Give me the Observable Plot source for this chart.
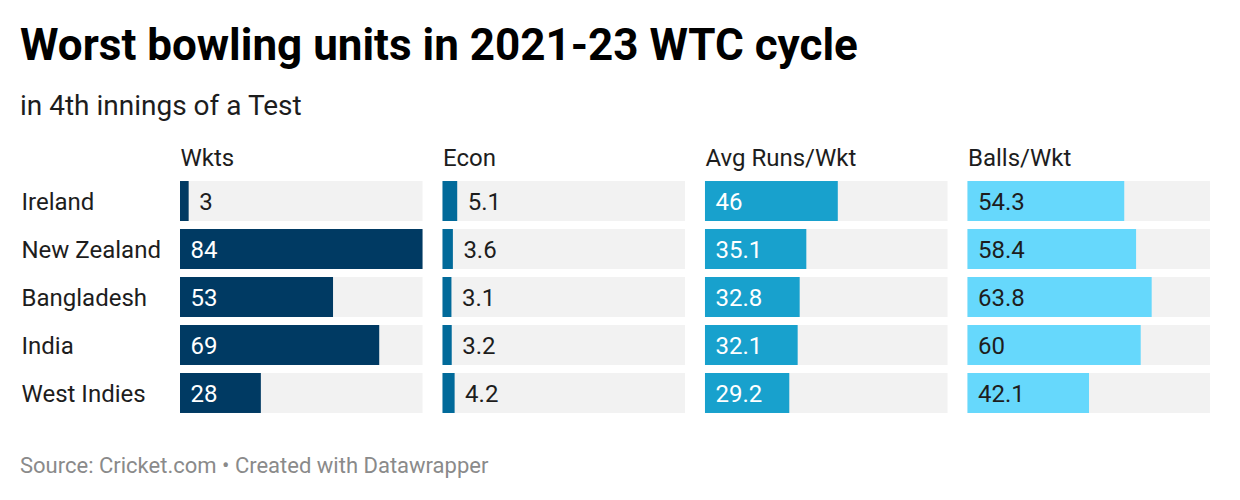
<!DOCTYPE html>
<html>
<head>
<meta charset="utf-8">
<script src="https://cdn.jsdelivr.net/npm/d3@7"></script>
<script src="https://cdn.jsdelivr.net/npm/@observablehq/plot@0.6"></script>
<style>
  html, body { margin: 0; padding: 0; background: #fff; }
  body { width: 1240px; height: 500px; overflow: hidden; font-family: Roboto, sans-serif; }
  .wrap { padding-left: 20px; }
  h1 { margin: 22px 0 0 0; font-size: 44px; line-height: 46px; font-weight: 700; color: #000; letter-spacing: 0; }
  .sub { margin: 23px 0 0 0; font-size: 28px; line-height: 30px; color: #1d1d1d; }
  #chart { margin-top: 9px; margin-left: -20px; height: 300px; }
  .cap { margin: 24px 0 0 0; font-size: 22px; line-height: 24px; color: #8a8a8a; }
</style>
</head>
<body>
<div class="wrap">
  <h1>Worst bowling units in 2021-23 WTC cycle</h1>
  <div class="sub">in 4th innings of a Test</div>
  <div id="chart"></div>
  <div class="cap">Source: Cricket.com • Created with Datawrapper</div>
</div>
<script>
const countries = ["Ireland", "New Zealand", "Bangladesh", "India", "West Indies"];
const metrics = ["Wkts", "Econ", "Avg Runs/Wkt", "Balls/Wkt"];
const wkts = [3, 84, 53, 69, 28];
const econ = [5.1, 3.6, 3.1, 3.2, 4.2];
const avgRuns = [46, 35.1, 32.8, 32.1, 29.2];
const ballsPerWkt = [54.3, 58.4, 63.8, 60, 42.1];
const barColors = ["#003a63", "#016a9a", "#18a1cd", "#66d8fc"];
const insideTextColors = ["#ffffff", "#ffffff", "#ffffff", "#1d1d1d"];
const domainMax = 84;

const series = [wkts, econ, avgRuns, ballsPerWkt];
const table = [];
metrics.forEach((m, i) => {
  countries.forEach((c, j) => {
    const v = series[i][j];
    const inside = v > 10;
    table.push({
      metric: m, country: c, value: v, fill: barColors[i],
      inside, textFill: inside ? insideTextColors[i] : "#1d1d1d", label: String(v)
    });
  });
});

const chart = Plot.plot({
  width: 1240,
  height: 300,
  marginLeft: 180,
  marginRight: 30,
  marginTop: 43,
  marginBottom: 9,
  style: { fontFamily: "Roboto, sans-serif", background: "transparent" },
  x: { domain: [0, domainMax], axis: null },
  y: { domain: countries, padding: 0.167, round: false, axis: null },
  fx: { domain: metrics, padding: 0.076, round: false, axis: null },
  color: { type: "identity" },
  marks: [
    Plot.barX(table, { fx: "metric", y: "country", x1: () => 0, x2: () => domainMax, fill: "#f2f2f2" }),
    Plot.barX(table, { fx: "metric", y: "country", x1: () => 0, x2: "value", fill: "fill" }),
    Plot.text(table, {
      fx: "metric", y: "country",
      x: d => d.inside ? 0 : d.value,
      dx: 10, dy: 1, textAnchor: "start", fill: "textFill", text: "label", fontSize: 24
    }),
    Plot.text(metrics, {
      fx: d => d, text: d => d, frameAnchor: "top-left", lineAnchor: "middle",
      dy: -15, dx: 0, textAnchor: "start", fontSize: 24, fill: "#1d1d1d"
    }),
    Plot.text(countries, {
      fx: () => "Wkts", y: d => d, x: () => 0, text: d => d,
      dx: -159, dy: 1, textAnchor: "start", fontSize: 24, fill: "#1d1d1d"
    })
  ]
});
document.getElementById("chart").appendChild(chart);
</script>
</body>
</html>
